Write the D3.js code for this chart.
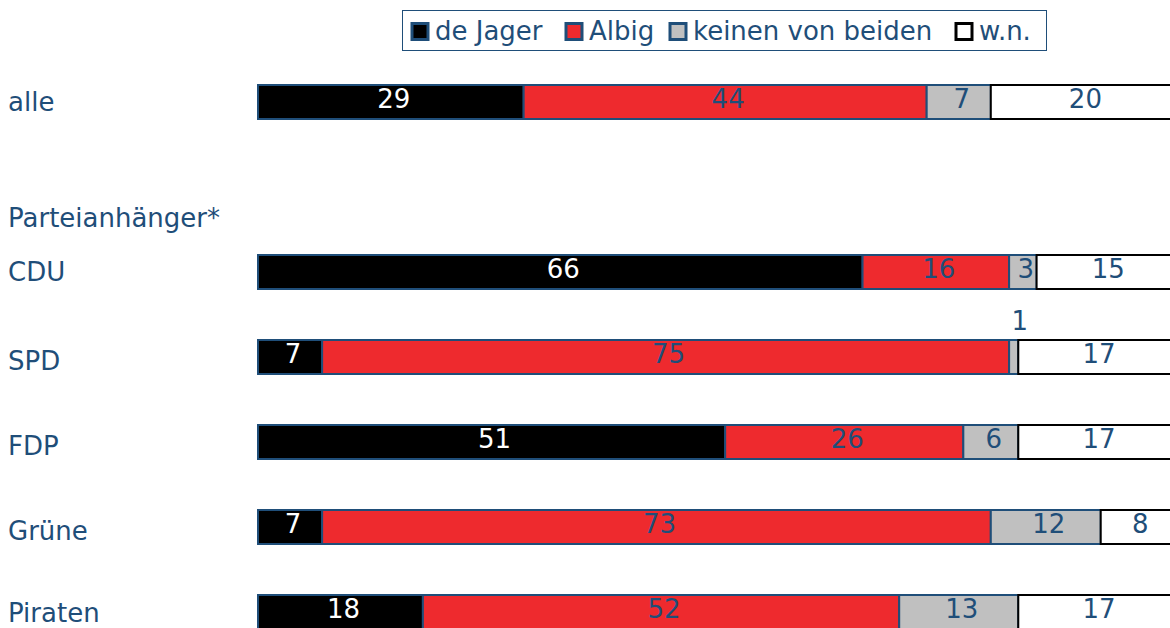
<!DOCTYPE html>
<html>
<head>
<meta charset="utf-8">
<script src="https://cdn.jsdelivr.net/npm/d3@7"></script>
<style>
  body { margin: 0; background: #fff; }
  text { font-family: "DejaVu Sans", Verdana, sans-serif; }
</style>
</head>
<body>
<svg width="1170" height="628"></svg>
<script>
// rows of the chart, "" = spacer row
const rows = ['alle', '', 'CDU', 'SPD', 'FDP', 'Grüne', 'Piraten']
const categories = ['alle', 'CDU', 'SPD', 'FDP', 'Grüne', 'Piraten']
const series = ['de Jager', 'Albig', 'keinen von beiden', 'w.n.']
const deJager = [29, 66, 7, 51, 7, 18]
const albig = [44, 16, 75, 26, 73, 52]
const keinen = [7, 3, 1, 6, 12, 13]
const wn = [20, 15, 17, 17, 8, 17]

const fills = ['#000000', '#ee2a2e', '#c0c0c0', '#ffffff']
const strokes = ['#1f4e79', '#1f4e79', '#1f4e79', '#000000']
const textCol = ['#ffffff', '#1f4e79', '#1f4e79', '#1f4e79']
const navy = '#1f4e79'
const fs = '26px'

const data = categories.map((c, i) => ({ cat: c, vals: [deJager[i], albig[i], keinen[i], wn[i]] }))

const svg = d3.select('svg')

const x = d3.scaleLinear().domain([0, 100]).range([258, 1174])
const y = d3.scaleBand().domain(rows).range([85, 629]).paddingInner(0.6).paddingOuter(0)

// category labels
svg.selectAll('.cat')
  .data(categories)
  .enter()
  .append('text')
  .attr('x', 8)
  .attr('y', c => y(c) + (c === 'alle' || c === 'CDU' ? 26 : (c === 'Piraten' ? 27 : 30)))
  .attr('fill', navy)
  .style('font-size', fs)
  .text(c => c)

svg.append('text')
  .attr('x', 8).attr('y', 227)
  .attr('fill', navy)
  .style('font-size', fs)
  .text('Parteianhänger*')

// stacked segments
const groups = svg.selectAll('.row')
  .data(data)
  .enter()
  .append('g')
  .attr('transform', d => `translate(0,${y(d.cat)})`)

groups.each(function (d) {
  let acc = 0
  const segs = d.vals.map((v, k) => {
    const s = { k, v, x0: acc, x1: acc + v }
    acc += v
    return s
  })
  const g = d3.select(this)
  g.selectAll('rect')
    .data(segs)
    .enter()
    .append('rect')
    .attr('x', s => x(s.x0))
    .attr('y', 0)
    .attr('width', s => x(s.x1) - x(s.x0))
    .attr('height', y.bandwidth())
    .attr('fill', s => fills[s.k])
    .attr('stroke', s => strokes[s.k])
    .attr('stroke-width', 2)

  g.selectAll('text')
    .data(segs)
    .enter()
    .append('text')
    .attr('x', s => (x(s.x0) + x(s.x1)) / 2 + (s.v < 2 ? 6 : 3))
    .attr('y', s => s.v < 2 ? -10 : 23)
    .attr('text-anchor', 'middle')
    .attr('fill', s => s.v < 2 ? navy : textCol[s.k])
    .style('font-size', fs)
    .text(s => s.v)
})

// legend
const legend = svg.append('g')
legend.append('rect')
  .attr('x', 402.5).attr('y', 10.5)
  .attr('width', 644).attr('height', 40)
  .attr('fill', '#fff')
  .attr('stroke', navy)
  .attr('stroke-width', 1)

const legX = [412, 566, 670, 956]
series.forEach((s, k) => {
  legend.append('rect')
    .attr('x', legX[k]).attr('y', 23.5)
    .attr('width', 16).attr('height', 16)
    .attr('fill', fills[k])
    .attr('stroke', k === 3 ? '#000' : navy)
    .attr('stroke-width', 3)
  legend.append('text')
    .attr('x', legX[k] + 23).attr('y', 40)
    .attr('fill', navy)
    .style('font-size', fs)
    .text(s)
})
</script>
</body>
</html>
